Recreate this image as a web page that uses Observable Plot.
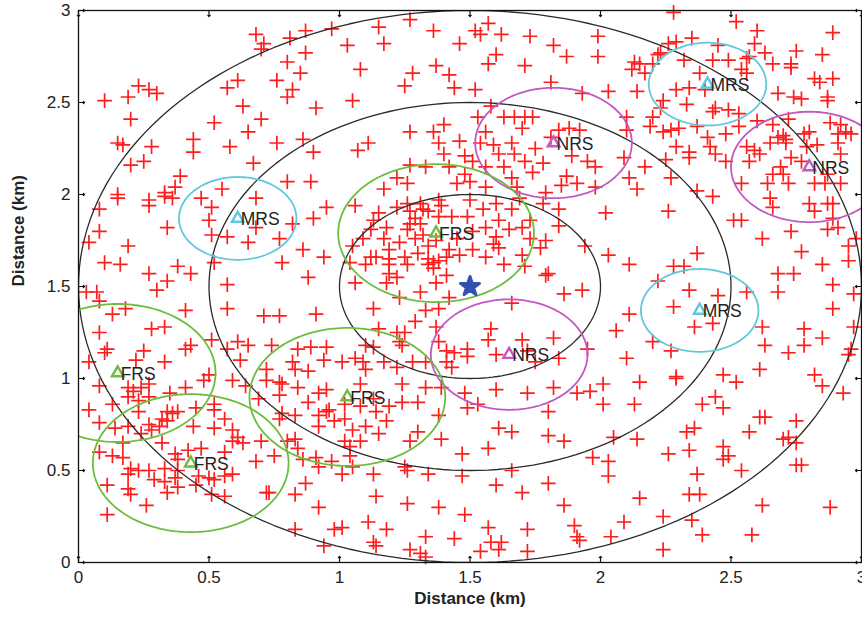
<!DOCTYPE html>
<html>
<head>
<meta charset="utf-8">
<script src="https://cdn.jsdelivr.net/npm/d3@7"></script>
<script src="https://cdn.jsdelivr.net/npm/@observablehq/plot@0.6"></script>
<style>
  html, body { margin: 0; padding: 0; background: #fff; }
  #chart { width: 862px; height: 617px; }
</style>
</head>
<body>
<div id="chart"></div>
<script>
// ---- Data ----
const tickValues = [0, 0.5, 1, 1.5, 2, 2.5, 3];

// Macro base station (blue marker) and coverage rings
const bsX = [1.5];
const bsY = [1.5];
const ringRadii = [0.5, 1.0, 1.5];

// Small-cell stations
const stationType = ["MRS", "MRS", "MRS", "NRS", "NRS", "NRS", "FRS", "FRS", "FRS", "FRS"];
const stationX    = [0.61, 2.41, 2.38, 1.82, 2.80, 1.65, 1.37, 0.43, 1.03, 0.15];
const stationY    = [1.87, 2.60, 1.37, 2.28, 2.15, 1.13, 1.79, 0.54, 0.90, 1.03];
const typeNames   = ["MRS", "NRS", "FRS"];
const typeRadius  = [0.225, 0.30, 0.375];
const typeColor   = ["#5ec8dc", "#c158c4", "#6cbd3e"];

// User positions (red +)
const users = [
  // x 0..1, y 2..3
  [0.68,2.87],[0.71,2.82],[0.70,2.79],[0.81,2.85],[0.87,2.89],[0.97,2.90],[0.87,2.77],[0.80,2.72],[0.85,2.66],[0.76,2.62],
  [0.82,2.57],[0.80,2.53],[0.61,2.62],[0.57,2.58],[0.63,2.48],[0.91,2.47],[0.70,2.41],[0.65,2.34],[0.52,2.39],[0.44,2.30],
  [0.44,2.23],[0.58,2.26],[0.76,2.28],[0.86,2.30],[0.90,2.23],[0.67,2.17],[0.80,2.07],[0.89,2.07],[0.55,2.03],[0.39,2.10],
  [0.37,2.04],[0.33,2.01],[0.15,2.00],[0.28,2.26],[0.25,2.18],[0.20,2.16],[0.15,2.28],[0.17,2.27],[0.20,2.41],[0.10,2.51],
  [0.19,2.53],[0.23,2.59],[0.27,2.57],[0.30,2.55],
  // x 1..2, y 2..3
  [1.27,2.95],[1.15,2.91],[1.03,2.81],[1.17,2.82],[1.36,2.89],[1.52,2.89],[1.54,2.87],[1.57,2.93],[1.62,2.87],[1.73,2.86],
  [1.46,2.82],[1.60,2.76],[1.57,2.71],[1.82,2.81],[1.87,2.75],[1.99,2.86],[1.99,2.75],[1.08,2.68],[1.28,2.66],[1.25,2.59],
  [1.37,2.70],[1.42,2.65],[1.44,2.58],[1.52,2.57],[1.71,2.70],[1.81,2.61],[1.93,2.55],[1.05,2.51],[1.58,2.48],[1.63,2.42],
  [1.67,2.42],[1.71,2.42],[1.74,2.42],[1.53,2.42],[1.70,2.36],[1.40,2.38],[1.36,2.34],[1.27,2.34],[1.11,2.28],[1.07,2.24],
  [1.38,2.28],[1.46,2.29],[1.56,2.34],[1.54,2.28],[1.59,2.27],[1.66,2.28],[1.40,2.22],[1.48,2.21],[1.51,2.18],[1.61,2.22],
  [1.67,2.22],[1.75,2.25],[1.84,2.35],[1.88,2.36],[1.92,2.35],[1.81,2.31],[1.89,2.21],[1.95,2.18],[1.98,2.15],[1.78,2.17],
  [1.71,2.18],[1.74,2.12],[1.63,2.15],[1.66,2.09],[1.56,2.15],[1.48,2.11],[1.42,2.15],[1.33,2.15],[1.27,2.16],[1.22,2.09],
  [1.26,2.06],[1.17,2.03],[1.45,2.06],[1.50,2.07],[1.56,2.04],[1.68,2.04],[1.87,2.10],[1.85,2.05],[1.91,2.06],[1.98,2.04],
  [1.79,2.01],
  // x 2..3, y 2..3
  [2.28,2.99],[2.52,2.94],[2.60,2.89],[2.89,2.88],[2.35,2.85],[2.29,2.83],[2.26,2.82],[2.45,2.81],[2.59,2.82],[2.23,2.77],
  [2.22,2.76],[2.63,2.77],[2.75,2.78],[2.85,2.76],[2.13,2.72],[2.12,2.68],[2.15,2.71],[2.17,2.66],[2.20,2.71],[2.32,2.73],
  [2.43,2.73],[2.49,2.73],[2.56,2.74],[2.57,2.75],[2.66,2.71],[2.73,2.71],[2.73,2.69],[2.38,2.66],[2.54,2.68],[2.56,2.66],
  [2.82,2.63],[2.84,2.61],[2.89,2.63],[2.03,2.56],[2.14,2.56],[2.29,2.57],[2.34,2.58],[2.40,2.57],[2.24,2.51],[2.33,2.49],
  [2.44,2.47],[2.43,2.45],[2.49,2.46],[2.53,2.44],[2.68,2.55],[2.74,2.53],[2.77,2.52],[2.87,2.53],[2.87,2.51],[2.10,2.42],
  [2.20,2.42],[2.23,2.47],[2.19,2.37],[2.24,2.34],[2.27,2.35],[2.30,2.36],[2.37,2.37],[2.41,2.31],[2.48,2.33],[2.53,2.37],
  [2.60,2.40],[2.66,2.38],[2.72,2.41],[2.70,2.32],[2.68,2.31],[2.71,2.30],[2.78,2.33],[2.80,2.34],[2.88,2.39],[2.91,2.33],
  [2.96,2.33],[2.94,2.34],[2.92,2.38],[2.10,2.35],[2.29,2.26],[2.34,2.23],[2.42,2.26],[2.44,2.22],[2.56,2.26],[2.59,2.24],
  [2.61,2.22],[2.65,2.28],[2.71,2.28],[2.79,2.26],[2.83,2.27],[2.91,2.28],[2.92,2.22],[2.73,2.20],[2.57,2.18],[2.48,2.18],
  [2.34,2.20],[2.25,2.19],[2.09,2.20],[2.17,2.15],[2.27,2.09],[2.11,2.09],[2.14,2.03],[2.69,2.15],[2.66,2.11],[2.70,2.11],
  [2.64,2.06],[2.72,2.06],[2.77,2.18],[2.87,2.11],[2.86,2.06],[2.82,2.06],[2.92,2.06],[2.37,2.02],[2.54,2.06],
  // x 0..1, y 1..2
  [0.15,1.98],[0.27,1.97],[0.33,1.99],[0.36,1.98],[0.08,1.92],[0.27,1.94],[0.47,1.98],[0.51,1.93],[0.68,1.98],[0.95,1.93],
  [0.90,1.87],[0.50,1.86],[0.51,1.78],[0.57,1.77],[0.65,1.74],[0.68,1.82],[0.82,1.84],[0.77,1.76],[0.86,1.70],[0.94,1.66],
  [0.34,1.82],[0.08,1.80],[0.04,1.74],[0.19,1.72],[0.10,1.63],[0.16,1.62],[0.38,1.61],[0.43,1.57],[0.27,1.57],[0.34,1.53],
  [0.30,1.48],[0.52,1.63],[0.57,1.51],[0.78,1.63],[0.88,1.55],[0.03,1.47],[0.07,1.47],[0.08,1.42],[0.57,1.38],[0.41,1.37],
  [0.18,1.38],[0.13,1.35],[0.71,1.34],[0.77,1.34],[0.91,1.35],[0.33,1.28],[0.28,1.27],[0.08,1.25],[0.51,1.21],[0.43,1.18],
  [0.41,1.16],[0.61,1.20],[0.65,1.18],[0.74,1.18],[0.84,1.16],[0.89,1.17],[0.95,1.17],[0.11,1.16],[0.10,1.14],[0.25,1.15],
  [0.22,1.10],[0.33,1.09],[0.04,1.09],[0.57,1.16],[0.62,1.10],[0.72,1.05],[0.82,1.09],[0.94,1.10],[0.83,1.05],[0.88,1.04],
  [0.50,1.02],
  // x 1..2, y 1..2
  [1.06,1.94],[1.15,1.90],[1.22,1.93],[1.26,1.95],[1.27,1.91],[1.29,1.87],[1.27,1.84],[1.31,1.95],[1.32,1.92],[1.34,1.91],
  [1.38,1.97],[1.39,1.94],[1.38,1.88],[1.43,1.88],[1.49,1.88],[1.50,1.97],[1.55,1.92],[1.60,1.95],[1.66,1.92],[1.61,1.86],
  [1.69,1.98],[1.78,1.95],[1.84,1.92],[1.73,1.86],[1.84,1.83],[1.13,1.86],[1.12,1.81],[1.18,1.82],[1.26,1.81],[1.31,1.84],
  [1.32,1.78],[1.09,1.76],[1.17,1.76],[1.23,1.74],[1.29,1.76],[1.37,1.75],[1.45,1.76],[1.51,1.80],[1.56,1.82],[1.60,1.77],
  [1.65,1.81],[1.70,1.82],[1.73,1.76],[1.79,1.75],[1.77,1.71],[1.94,1.72],[1.05,1.72],[1.19,1.70],[1.34,1.72],[1.30,1.68],
  [1.42,1.70],[1.51,1.70],[1.59,1.73],[1.61,1.71],[1.12,1.66],[1.14,1.66],[1.19,1.65],[1.25,1.66],[1.34,1.65],[1.41,1.66],
  [1.46,1.67],[1.56,1.66],[1.70,1.67],[1.63,1.62],[1.71,1.61],[1.04,1.63],[1.10,1.62],[1.19,1.62],[1.26,1.62],[1.34,1.62],
  [1.36,1.63],[1.36,1.60],[1.38,1.64],[1.19,1.57],[1.22,1.55],[1.41,1.56],[1.37,1.52],[1.18,1.52],[1.06,1.52],[1.80,1.57],
  [1.79,1.56],[1.93,1.48],[1.86,1.46],[1.31,1.47],[1.23,1.44],[1.42,1.44],[1.13,1.38],[1.33,1.37],[1.38,1.38],[1.66,1.41],
  [1.29,1.31],[1.15,1.27],[1.22,1.25],[1.25,1.25],[1.37,1.28],[1.58,1.27],[1.57,1.21],[1.70,1.21],[1.82,1.22],[1.10,1.18],
  [1.13,1.17],[1.23,1.20],[1.24,1.18],[1.38,1.20],[1.41,1.15],[1.44,1.14],[1.49,1.16],[1.49,1.12],[1.60,1.13],[1.72,1.15],
  [1.84,1.11],[1.95,1.16],[1.01,1.09],[1.06,1.11],[1.09,1.09],[1.10,1.05],[1.17,1.09],[1.22,1.06],[1.28,1.09],[1.33,1.09],
  [1.41,1.09],[1.43,1.06],[1.75,1.09],
  // x 2..3, y 1..2
  [2.02,1.90],[2.26,1.91],[2.43,1.99],[2.51,1.86],[2.54,1.86],[2.65,1.98],[2.66,1.93],[2.80,1.95],[2.82,1.91],[2.87,1.95],
  [2.89,1.95],[2.89,1.87],[2.87,1.81],[2.91,1.82],[2.73,1.80],[2.62,1.76],[2.98,1.76],[2.95,1.72],[2.77,1.69],[2.95,1.64],
  [2.85,1.62],[2.03,1.67],[2.11,1.62],[2.37,1.68],[2.28,1.61],[2.32,1.61],[2.22,1.53],[2.34,1.48],[2.45,1.45],[2.56,1.47],
  [2.68,1.57],[2.74,1.57],[2.68,1.47],[2.89,1.51],[2.97,1.46],[2.28,1.39],[2.11,1.35],[2.36,1.28],[2.43,1.30],[2.89,1.38],
  [2.06,1.26],[2.20,1.20],[2.27,1.15],[2.62,1.28],[2.63,1.18],[2.78,1.27],[2.78,1.18],[2.85,1.22],[2.97,1.28],[2.72,1.14],
  [2.95,1.13],[2.96,1.16],[2.10,1.11],[2.61,1.05],[2.47,1.02],[2.29,1.01],[2.82,1.02],
  // x 0..1, y 0..1
  [0.08,0.96],[0.19,0.95],[0.21,0.93],[0.24,0.95],[0.27,0.97],[0.19,0.90],[0.23,0.88],[0.27,0.90],[0.35,0.92],[0.41,0.95],
  [0.48,0.99],[0.13,0.86],[0.04,0.83],[0.08,0.76],[0.23,0.82],[0.34,0.82],[0.36,0.81],[0.38,0.82],[0.32,0.78],[0.34,0.77],
  [0.45,0.84],[0.52,0.86],[0.52,0.83],[0.14,0.73],[0.19,0.74],[0.27,0.75],[0.28,0.72],[0.24,0.70],[0.31,0.74],[0.44,0.74],
  [0.52,0.73],[0.56,0.78],[0.59,0.72],[0.61,0.68],[0.63,0.65],[0.59,0.66],[0.70,0.66],[0.17,0.65],[0.32,0.65],[0.08,0.60],
  [0.13,0.58],[0.17,0.57],[0.37,0.59],[0.38,0.56],[0.42,0.61],[0.47,0.62],[0.56,0.60],[0.68,0.55],[0.75,0.58],[0.20,0.51],
  [0.23,0.50],[0.27,0.50],[0.19,0.48],[0.33,0.51],[0.38,0.50],[0.37,0.46],[0.29,0.45],[0.33,0.44],[0.38,0.41],[0.46,0.47],
  [0.50,0.46],[0.45,0.42],[0.52,0.45],[0.56,0.47],[0.59,0.48],[0.11,0.42],[0.19,0.40],[0.20,0.37],[0.34,0.38],[0.51,0.37],
  [0.56,0.36],[0.26,0.31],[0.11,0.26],[0.72,0.38],[0.73,0.38],[0.83,0.37],[0.87,0.43],[0.92,0.30],[0.83,0.18],[0.98,0.18],
  [0.94,0.09],[0.69,0.89],[0.72,0.99],[0.77,0.98],[0.78,0.97],[0.77,0.91],[0.84,0.95],[0.92,0.92],[0.95,0.94],[0.88,0.87],
  [0.96,0.83],[0.95,0.82],[0.83,0.80],[0.77,0.78],[0.78,0.81],[0.92,0.80],[0.98,0.77],[0.92,0.74],[0.83,0.67],[0.80,0.66],
  [0.84,0.62],[0.91,0.57],[0.86,0.56],[0.92,0.52],[0.97,0.55],[0.64,0.96],[0.59,0.99],
  // x 1..2, y 0..1
  [1.08,0.97],[1.24,0.97],[1.33,0.95],[1.39,0.95],[1.48,0.92],[1.60,0.94],[1.72,0.92],[1.82,0.95],[1.91,0.92],[1.96,0.93],
  [1.02,0.86],[1.08,0.85],[1.13,0.89],[1.19,0.85],[1.24,0.87],[1.30,0.87],[1.14,0.82],[1.18,0.77],[1.02,0.78],[1.38,0.80],
  [1.49,0.84],[1.53,0.86],[1.80,0.82],[1.05,0.72],[1.10,0.74],[1.15,0.70],[1.08,0.66],[1.02,0.66],[1.04,0.63],[1.30,0.71],
  [1.27,0.66],[1.39,0.67],[1.61,0.73],[1.66,0.71],[1.80,0.69],[1.86,0.66],[1.47,0.59],[1.57,0.62],[1.97,0.57],[1.04,0.58],
  [1.05,0.52],[1.01,0.48],[1.13,0.48],[1.25,0.52],[1.26,0.50],[1.34,0.48],[1.47,0.47],[1.66,0.50],[1.60,0.42],[1.70,0.38],
  [1.80,0.43],[1.14,0.36],[1.26,0.32],[1.38,0.30],[1.48,0.26],[1.86,0.31],[1.01,0.19],[1.11,0.22],[1.18,0.18],[1.33,0.14],
  [1.44,0.13],[1.57,0.19],[1.58,0.11],[1.62,0.11],[1.72,0.18],[1.90,0.20],[1.91,0.14],[1.92,0.12],[1.13,0.11],[1.14,0.09],
  [1.27,0.07],[1.31,0.05],[1.33,0.03],[1.54,0.06],[1.61,0.07],[1.72,0.06],
  // x 2..3, y 0..1
  [2.01,0.97],[2.15,0.98],[2.29,1.00],[2.52,0.98],[2.01,0.86],[2.13,0.86],[2.39,0.86],[2.44,0.90],[2.47,0.84],[2.85,0.96],
  [2.93,0.92],[2.61,0.79],[2.63,0.79],[2.75,0.77],[2.33,0.71],[2.36,0.73],[2.57,0.71],[2.70,0.67],[2.72,0.68],[2.75,0.65],
  [2.05,0.68],[2.14,0.67],[2.26,0.59],[2.34,0.61],[2.47,0.63],[2.49,0.58],[2.47,0.56],[2.54,0.50],[2.75,0.53],[2.77,0.53],
  [2.03,0.55],[2.03,0.47],[2.37,0.48],[2.34,0.37],[2.38,0.37],[2.15,0.35],[2.62,0.31],[2.88,0.30],[2.09,0.22],[2.24,0.25],
  [2.35,0.23],[2.04,0.14],[2.39,0.15],[2.58,0.15],[2.24,0.07]
];

// ---- Build tables for the library ----
const userRows = users.map(([x, y]) => ({x, y}));
const stations = stationType.map((t, i) => {
  const k = typeNames.indexOf(t);
  return {type: t, x: stationX[i], y: stationY[i], r: typeRadius[k], color: typeColor[k]};
});
const circles = [
  ...ringRadii.map(r => ({cx: bsX[0], cy: bsY[0], r, color: "#2a2a2a", w: 1.3})),
  ...stations.map(s => ({cx: s.x, cy: s.y, r: s.r, color: s.color, w: 1.6}))
];
const steps = 180;
const outline = circles.flatMap((c, id) =>
  d3.range(steps + 1).map(k => {
    const a = (2 * Math.PI * k) / steps;
    return {id, x: c.cx + c.r * Math.cos(a), y: c.cy + c.r * Math.sin(a), color: c.color, w: c.w};
  })
);

const fmt = d => String(d);
const tickStyle = {length: 6, anchor: "start", stroke: "#111", strokeWidth: 1.2};

const plot = Plot.plot({
  width: 862,
  height: 617,
  marginLeft: 78,
  marginRight: 1,
  marginTop: 10,
  marginBottom: 55,
  style: {fontFamily: "'Liberation Sans', Arial, sans-serif", fontSize: "17px", background: "#fff", color: "#222"},
  x: {domain: [0, 3], label: null},
  y: {domain: [0, 3], label: null},
  color: {type: "identity"},
  marks: [
    Plot.dot(userRows, {x: "x", y: "y", symbol: "plus", r: 4.8, stroke: "#ff1c1c", strokeWidth: 1.7}),
    Plot.line(outline.filter(d => d.w < 1.5), {x: "x", y: "y", z: "id", stroke: "color", strokeWidth: 1.3, clip: true}),
    Plot.line(outline.filter(d => d.w >= 1.5), {x: "x", y: "y", z: "id", stroke: "color", strokeWidth: 1.8, clip: true}),
    Plot.dot(stations, {x: "x", y: "y", symbol: "triangle2", r: 5.5, stroke: "color", strokeWidth: 2.4}),
    Plot.text(stations, {x: "x", y: "y", text: "type", textAnchor: "start", dx: 3, dy: 1, fontSize: 17.5, fill: "#222"}),
    Plot.dot(bsX.map((x, i) => ({x, y: bsY[i]})), {x: "x", y: "y", symbol: "star", r: 6, fill: "#3550b4", stroke: "#3550b4", strokeWidth: 3, strokeLinejoin: "round"}),
    Plot.frame({stroke: "#111", strokeWidth: 1.3}),
    // inward tick marks on all four sides
    Plot.vector(tickValues, {x: d => d, frameAnchor: "bottom", rotate: 0, ...tickStyle}),
    Plot.vector(tickValues, {x: d => d, frameAnchor: "top", rotate: 180, ...tickStyle}),
    Plot.vector(tickValues, {y: d => d, frameAnchor: "left", rotate: 90, ...tickStyle}),
    Plot.vector(tickValues, {y: d => d, frameAnchor: "right", rotate: -90, ...tickStyle}),
    Plot.axisX(tickValues, {anchor: "bottom", tickSize: 0, tickPadding: 8, tickFormat: fmt, fontSize: 17, fill: "#222"}),
    Plot.axisY(tickValues, {anchor: "left", tickSize: 0, tickPadding: 8, tickFormat: fmt, fontSize: 17, fill: "#222"}),
    Plot.text(["Distance (km)"], {frameAnchor: "bottom", text: d => d, dy: 41, fontWeight: "bold", fontSize: 17, fill: "#222"}),
    Plot.text(["Distance (km)"], {frameAnchor: "left", text: d => d, rotate: -90, dx: -60, fontWeight: "bold", fontSize: 17, fill: "#222"})
  ]
});
document.getElementById("chart").appendChild(plot);
</script>
</body>
</html>
